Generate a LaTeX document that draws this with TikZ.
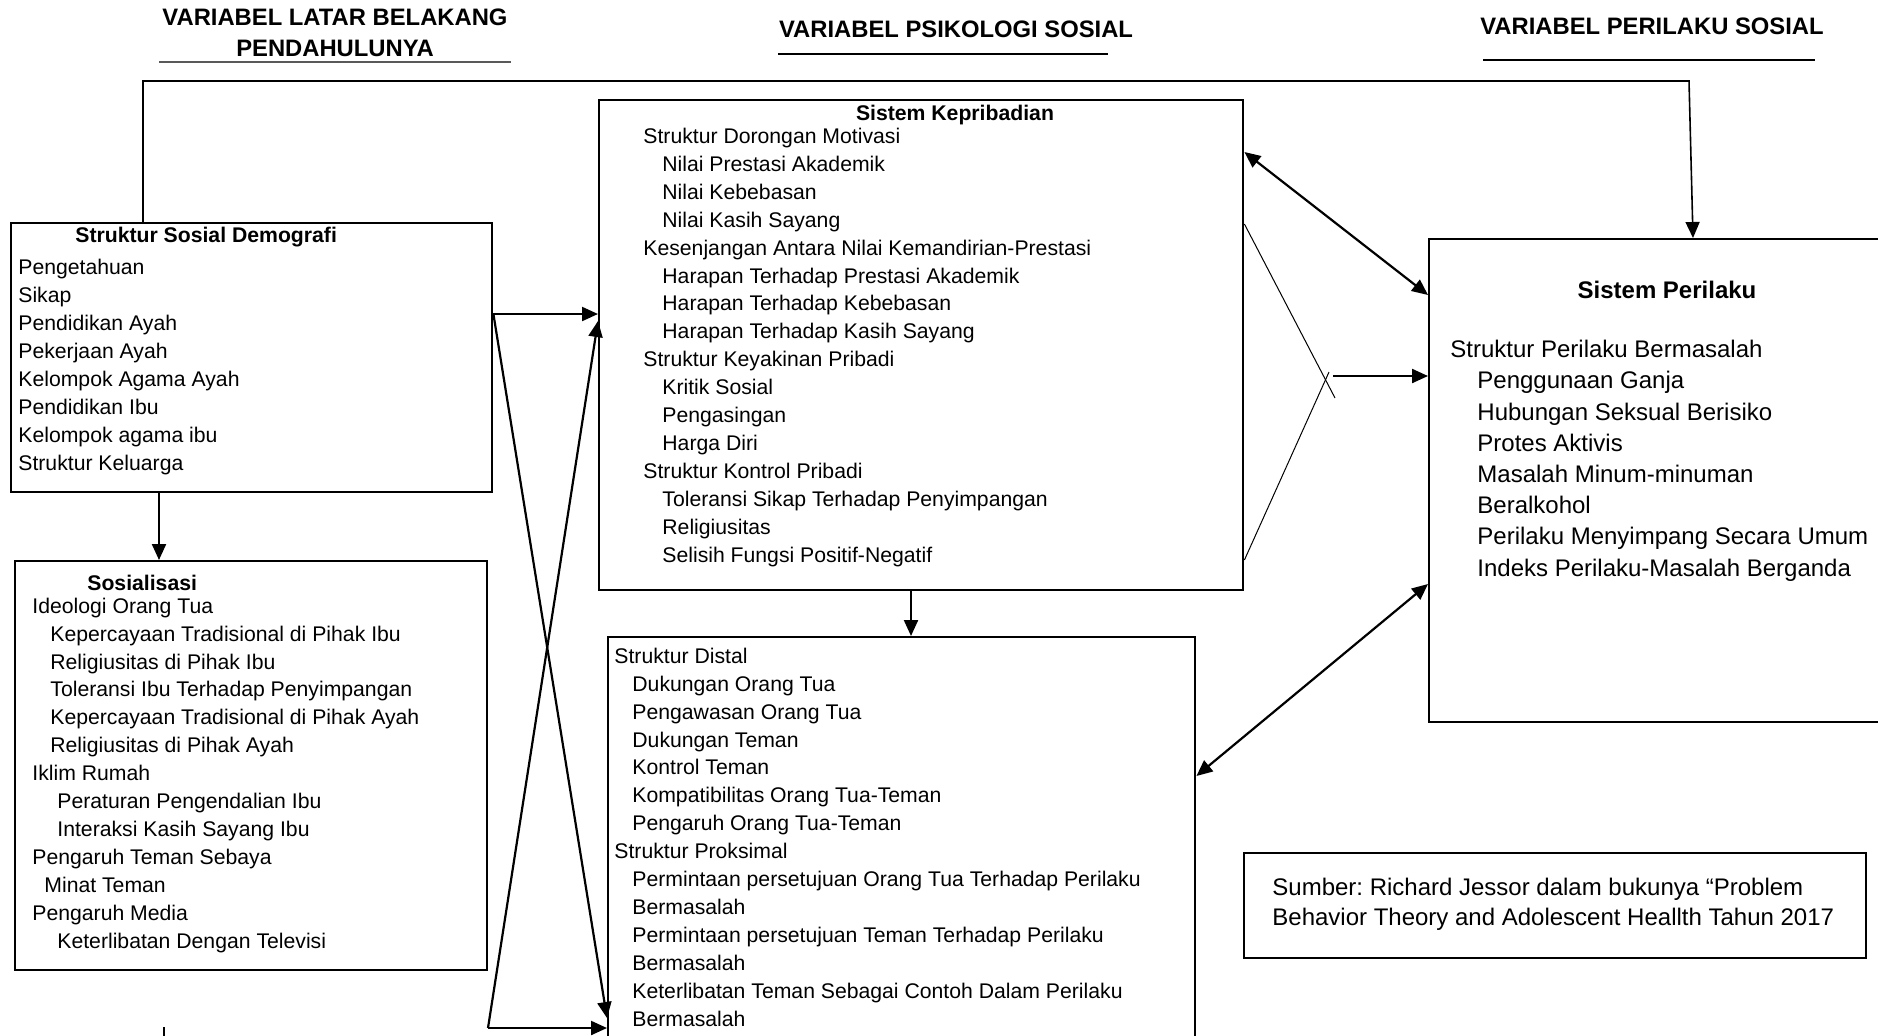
\documentclass[tikz,border=0pt]{standalone}
\usepackage{fontspec}
\setmainfont{Liberation Sans}
\usetikzlibrary{arrows.meta}
\frenchspacing

\begin{document}
\begin{tikzpicture}[x=0.5pt, y=-0.5pt,
  box/.style={draw, line width=1.2pt, rectangle, anchor=north west, inner sep=0pt},
  txt/.style={anchor=base west, align=left, inner sep=0pt, font=\fontsize{10.6}{13.95}\selectfont},
  bigtxt/.style={anchor=base west, align=left, inner sep=0pt, font=\fontsize{12}{15.6}\selectfont},
  judul/.style={anchor=base, inner sep=0pt, font=\bfseries\fontsize{10.6}{14}\selectfont},
  head/.style={anchor=base, align=center, inner sep=0pt, font=\bfseries\fontsize{11.9}{15.5}\selectfont},
  arr/.style={line width=1.1pt, -{Triangle[length=8pt,width=7pt]}},
  darr/.style={line width=1.1pt, {Triangle[length=8pt,width=7pt]}-{Triangle[length=8pt,width=7pt]}},
  tipis/.style={line width=0.5pt}
]
\useasboundingbox (0,0) rectangle (1878,1035);
\clip (0,0) rectangle (1878,1035);

% multi-line nodes sit on the baseline of their last line
\node[head] (h1) at (335,56) {VARIABEL LATAR BELAKANG\\PENDAHULUNYA};
\node[head] (h2) at (956,37) {VARIABEL PSIKOLOGI SOSIAL};
\node[head] (h3) at (1652,34) {VARIABEL PERILAKU SOSIAL};
\draw[black!65, line width=1.2pt] (159,62) -- (511,62);
\draw[line width=0.6pt] (778,54) -- (1108,54);
\draw[line width=0.6pt] (1483,60) -- (1815,60);

\node[box, minimum width=240.5pt, minimum height=134.5pt] (demo) at (10,222) {};
\node[judul, anchor=base west] (demoj) at (75,242) {Struktur Sosial Demografi};
\node[txt] (demoi) at (18,470) {Pengetahuan\\Sikap\\Pendidikan Ayah\\Pekerjaan Ayah\\
  Kelompok Agama Ayah\\Pendidikan Ibu\\Kelompok agama ibu\\Struktur Keluarga};

\node[box, minimum width=236pt, minimum height=204.5pt] (sos) at (14,560) {};
\node[judul, anchor=base west] (sosj) at (87,590) {Sosialisasi};
\node[txt] (sosi) at (32,948) {Ideologi Orang Tua\\
  \hspace*{9pt}Kepercayaan Tradisional di Pihak Ibu\\
  \hspace*{9pt}Religiusitas di Pihak Ibu\\
  \hspace*{9pt}Toleransi Ibu Terhadap Penyimpangan\\
  \hspace*{9pt}Kepercayaan Tradisional di Pihak Ayah\\
  \hspace*{9pt}Religiusitas di Pihak Ayah\\
  Iklim Rumah\\
  \hspace*{12.5pt}Peraturan Pengendalian Ibu\\
  \hspace*{12.5pt}Interaksi Kasih Sayang Ibu\\
  Pengaruh Teman Sebaya\\
  \hspace*{6pt}Minat Teman\\
  Pengaruh Media\\
  \hspace*{12.5pt}Keterlibatan Dengan Televisi};

\node[box, minimum width=322pt, minimum height=245pt] (kep) at (598,99) {};
\node[judul] (kepj) at (955,120) {Sistem Kepribadian};
\node[txt] (kepi) at (643,562) {Struktur Dorongan Motivasi\\
  \hspace*{9.5pt}Nilai Prestasi Akademik\\
  \hspace*{9.5pt}Nilai Kebebasan\\
  \hspace*{9.5pt}Nilai Kasih Sayang\\
  Kesenjangan Antara Nilai Kemandirian-Prestasi\\
  \hspace*{9.5pt}Harapan Terhadap Prestasi Akademik\\
  \hspace*{9.5pt}Harapan Terhadap Kebebasan\\
  \hspace*{9.5pt}Harapan Terhadap Kasih Sayang\\
  Struktur Keyakinan Pribadi\\
  \hspace*{9.5pt}Kritik Sosial\\
  \hspace*{9.5pt}Pengasingan\\
  \hspace*{9.5pt}Harga Diri\\
  Struktur Kontrol Pribadi\\
  \hspace*{9.5pt}Toleransi Sikap Terhadap Penyimpangan\\
  \hspace*{9.5pt}Religiusitas\\
  \hspace*{9.5pt}Selisih Fungsi Positif-Negatif};

\node[box, minimum width=293.5pt, minimum height=210pt] (dist) at (607,636) {};
\node[txt] (disti) at (614,1026) {Struktur Distal\\
  \hspace*{9pt}Dukungan Orang Tua\\
  \hspace*{9pt}Pengawasan Orang Tua\\
  \hspace*{9pt}Dukungan Teman\\
  \hspace*{9pt}Kontrol Teman\\
  \hspace*{9pt}Kompatibilitas Orang Tua-Teman\\
  \hspace*{9pt}Pengaruh Orang Tua-Teman\\
  Struktur Proksimal\\
  \hspace*{9pt}Permintaan persetujuan Orang Tua Terhadap Perilaku\\
  \hspace*{9pt}Bermasalah\\
  \hspace*{9pt}Permintaan persetujuan Teman Terhadap Perilaku\\
  \hspace*{9pt}Bermasalah\\
  \hspace*{9pt}Keterlibatan Teman Sebagai Contoh Dalam Perilaku\\
  \hspace*{9pt}Bermasalah};

\node[box, minimum width=240pt, minimum height=241.5pt] (perl) at (1428,238) {};
\node[judul, font=\bfseries\fontsize{12}{15}\selectfont] (perlj) at (1667,298) {Sistem Perilaku};
\node[bigtxt] (perli) at (1450,576) {Struktur Perilaku Bermasalah\\
  \hspace*{13.5pt}Penggunaan Ganja\\
  \hspace*{13.5pt}Hubungan Seksual Berisiko\\
  \hspace*{13.5pt}Protes Aktivis\\
  \hspace*{13.5pt}Masalah Minum-minuman\\
  \hspace*{13.5pt}Beralkohol\\
  \hspace*{13.5pt}Perilaku Menyimpang Secara Umum\\
  \hspace*{13.5pt}Indeks Perilaku-Masalah Berganda};

\node[box, minimum width=311pt, minimum height=52.5pt] (sumber) at (1243,852) {};
\node[bigtxt, font=\fontsize{12}{15}\selectfont] (sumberi) at (1272,925)
  {Sumber: Richard Jessor dalam bukunya “Problem\\Behavior Theory and Adolescent Heallth Tahun 2017};

\coordinate (bawah) at (488,1028);
\coordinate (temu) at (1333,376);
\draw[arr] (demo.east |- 0,314) -- (kep.west |- 0,314);
\draw[arr] (demo.east |- 0,314) -- (dist.west |- 0,1018);
\draw[arr] (bawah) -- (kep.west |- 0,321);
\draw[arr] (bawah) -- (dist.west |- 0,1028);
\draw[arr] (demo.south -| 159,0) -- (sos.north -| 159,0);
\draw[arr] (kep.south -| 911,0) -- (dist.north -| 911,0);
\draw[darr] (kep.east |- 0,152) -- (perl.west |- 0,295);
\draw[darr] (dist.east |- 0,776) -- (perl.west |- 0,584);
\draw[tipis] (kep.east |- 0,224) -- (1335,398);
\draw[tipis] (kep.east |- 0,560) -- (1329,372);
\draw[arr] (temu) -- (perl.west |- temu);
\draw[arr, line width=0.8pt] (demo.north -| 143,0) |- (1689,81) -- (perl.north -| 1693,0);
\draw[line width=0.8pt] (164,1027) -- (164,1045);
\end{tikzpicture}
\end{document}
